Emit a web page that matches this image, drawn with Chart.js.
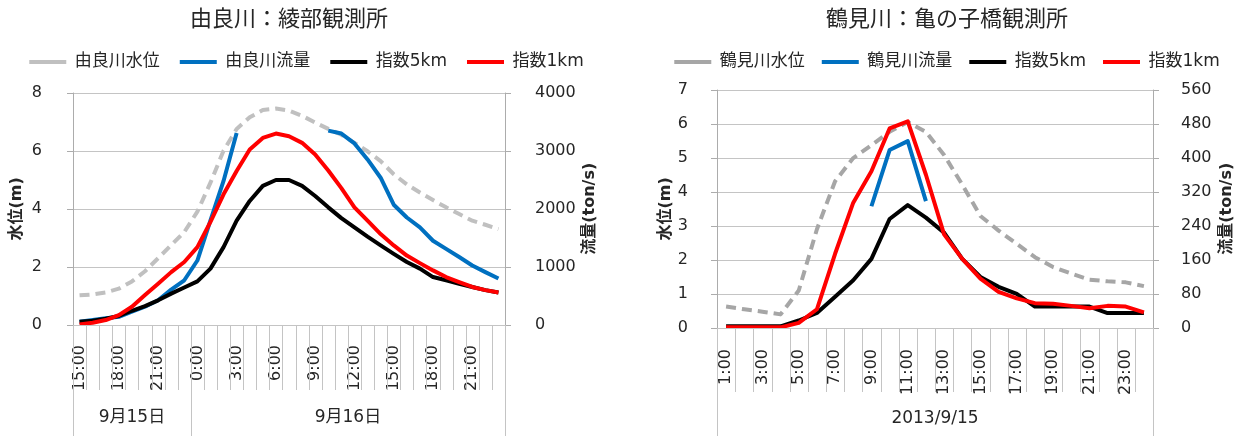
<!DOCTYPE html>
<html>
<head>
<meta charset="utf-8">
<script src="https://cdn.jsdelivr.net/npm/chart.js@4.4.1/dist/chart.umd.min.js"></script>
<style>
  body { margin: 0; background: #fff; }
  #wrap { position: relative; width: 1243px; height: 436px; overflow: hidden; }
  canvas { position: absolute; top: 0; }
</style>
</head>
<body>
<div id="wrap">
  <canvas id="yura" width="620" height="436" style="left:0"></canvas>
  <canvas id="tsurumi" width="623" height="436" style="left:620px"></canvas>
</div>
<script>
// ---- 由良川：綾部観測所 (9/15 15:00 - 9/16 23:00, hourly) ----
const yuraHours = [
  "15:00", "16:00", "17:00", "18:00", "19:00", "20:00", "21:00", "22:00", "23:00",
  "0:00", "1:00", "2:00", "3:00", "4:00", "5:00", "6:00", "7:00", "8:00", "9:00",
  "10:00", "11:00", "12:00", "13:00", "14:00", "15:00", "16:00", "17:00", "18:00",
  "19:00", "20:00", "21:00", "22:00", "23:00",
];
const yuraDates = ["9月15日", "9月16日"];
const yuraDateFirst = [0, 9]; // first hour index of each date
const yuraLevel = [
  1.02, 1.05, 1.12, 1.25, 1.5, 1.85, 2.3, 2.75, 3.2, 3.9, 4.9, 6.0, 6.75, 7.15, 7.4,
  7.45, 7.38, 7.2, 6.97, 6.75, 6.55, 6.27, 5.98, 5.64, 5.19, 4.84, 4.56, 4.3, 4.05,
  3.82, 3.59, 3.45, 3.3,
];
const yuraFlow = [
  55, 85, 115, 140, 230, 315, 425, 610, 770, 1110, 1800, 2480, 3305,
  null, null, null, null, null, null,
  3345, 3295, 3125, 2850, 2535, 2070, 1850, 1680, 1450, 1310, 1170, 1025, 910, 800,
];
const yuraIdx5 = [
  0.11, 0.15, 0.22, 0.31, 0.49, 0.65, 0.85, 1.08, 1.29, 1.5, 1.94, 2.68, 3.59, 4.27,
  4.79, 4.99, 4.99, 4.79, 4.44, 4.05, 3.68, 3.36, 3.04, 2.74, 2.45, 2.17, 1.94, 1.65,
  1.54, 1.42, 1.31, 1.2, 1.12,
];
const yuraIdx1 = [
  0.02, 0.08, 0.17, 0.34, 0.63, 1.03, 1.42, 1.82, 2.17, 2.68, 3.55, 4.5, 5.3, 6.04,
  6.44, 6.59, 6.5, 6.27, 5.87, 5.32, 4.71, 4.05, 3.59, 3.13, 2.74, 2.39, 2.13, 1.88,
  1.65, 1.48, 1.31, 1.2, 1.12,
];

// ---- 鶴見川：亀の子橋観測所 (2013/9/15, hourly) ----
const tsurumiHours = [
  "1:00", "2:00", "3:00", "4:00", "5:00", "6:00", "7:00", "8:00", "9:00", "10:00",
  "11:00", "12:00", "13:00", "14:00", "15:00", "16:00", "17:00", "18:00", "19:00",
  "20:00", "21:00", "22:00", "23:00", "0:00",
];
const tsurumiDates = ["2013/9/15"];
const tsurumiDateFirst = [0];
const tsurumiLevel = [
  0.63, 0.55, 0.48, 0.4, 1.1, 2.9, 4.31, 4.99, 5.37, 5.76, 6.05, 5.76, 5.08, 4.21,
  3.29, 2.86, 2.47, 2.08, 1.79, 1.6, 1.42, 1.37, 1.34, 1.23,
];
const tsurumiFlow = [
  null, null, null, null, null, null, null, null, 286, 418, 439, 298,
  null, null, null, null, null, null, null, null, null, null, null, null,
];
const tsurumiIdx5 = [
  0.05, 0.05, 0.05, 0.05, 0.22, 0.44, 0.92, 1.4, 2.03, 3.2, 3.61, 3.24, 2.8, 2.03,
  1.5, 1.21, 1.0, 0.63, 0.63, 0.63, 0.63, 0.44, 0.44, 0.44,
];
const tsurumiIdx1 = [
  0.02, 0.02, 0.02, 0.02, 0.15, 0.55, 2.18, 3.68, 4.6, 5.86, 6.07, 4.5, 2.75, 2.03,
  1.45, 1.06, 0.87, 0.73, 0.71, 0.65, 0.58, 0.65, 0.63, 0.46,
];

const FONT = '"DejaVu Sans", "Noto Sans CJK JP", sans-serif';
const TEXT = "#262626";
const GRID = "#c4c4c4";
const AXIS = "#acacac";
Chart.defaults.font.family = FONT;
Chart.defaults.color = TEXT;

// excel style frame: gridlines, axis lines and tick marks, slot separators under
// the x axis, date row and the two rotated axis titles
const excelExtras = {
  id: "excelExtras",
  beforeDatasetsDraw(chart, args, o) {
    const { ctx, chartArea } = chart;
    const { y, y2 } = chart.scales;
    const { left, right, top, bottom } = chartArea;
    ctx.save();
    ctx.lineWidth = 1;
    ctx.setLineDash([]);
    const seg = (x0, y0, x1, y1, color) => {
      ctx.strokeStyle = color;
      ctx.beginPath();
      ctx.moveTo(x0, y0);
      ctx.lineTo(x1, y1);
      ctx.stroke();
    };
    y.ticks.forEach((t) => {
      const py = Math.round(y.getPixelForValue(t.value)) + 0.5;
      seg(left, py, right, py, GRID);
      if (t.value % o.labelStep === 0) seg(left - 6, py, left, py, AXIS);
    });
    y2.ticks.forEach((t) => {
      const py = Math.round(y2.getPixelForValue(t.value)) + 0.5;
      seg(right, py, right + 6, py, AXIS);
    });
    const xl = Math.round(left) + 0.5;
    const xr = Math.round(right) + 0.5;
    seg(xl, top, xl, bottom, AXIS);
    seg(xr, top, xr, bottom, AXIS);
    ctx.restore();
  },
  afterDraw(chart, args, o) {
    const { ctx, chartArea } = chart;
    const x = chart.scales.x;
    const n = chart.data.labels.length;
    const vline = (px, y0, y1) => {
      px = Math.round(px) + 0.5;
      ctx.beginPath();
      ctx.moveTo(px, y0);
      ctx.lineTo(px, y1);
      ctx.stroke();
    };
    ctx.save();
    ctx.strokeStyle = GRID;
    ctx.lineWidth = 1;
    ctx.setLineDash([]);
    for (let i = 0; i <= n; i++) {
      vline(x.getPixelForValue(i - 0.5), chartArea.bottom, chartArea.bottom + o.sepLength);
    }
    ctx.font = "17px " + FONT;
    ctx.fillStyle = TEXT;
    ctx.textAlign = "center";
    ctx.textBaseline = "middle";
    o.dates.forEach((d, k) => {
      const first = o.firsts[k];
      const last = k + 1 < o.firsts.length ? o.firsts[k + 1] - 1 : n - 1;
      const a = x.getPixelForValue(first - 0.5);
      const b = x.getPixelForValue(last + 0.5);
      vline(a, chartArea.bottom, chart.height);
      vline(b, chartArea.bottom, chart.height);
      ctx.fillText(d, (a + b) / 2, o.dateY);
    });
    ctx.font = "bold 16px " + FONT;
    const cy = (chartArea.top + chartArea.bottom) / 2;
    [[o.leftTitle, o.leftTitleX], [o.rightTitle, o.rightTitleX]].forEach(([t, tx]) => {
      ctx.save();
      ctx.translate(tx, cy);
      ctx.rotate(-Math.PI / 2);
      ctx.fillText(t, 0, 0);
      ctx.restore();
    });
    ctx.restore();
  },
};

function buildChart(id, s) {
  return new Chart(document.getElementById(id), {
    type: "line",
    data: {
      labels: s.hours,
      datasets: [
        { label: s.names[0], data: s.level, borderColor: s.levelColor, borderWidth: 4, borderDash: [10, 6], yAxisID: "y", order: 4 },
        { label: s.names[1], data: s.flow, borderColor: "#0070c0", borderWidth: 4, yAxisID: "y2", order: 3 },
        { label: s.names[2], data: s.idx5, borderColor: "#000000", borderWidth: 4, yAxisID: "y", order: 2 },
        { label: s.names[3], data: s.idx1, borderColor: "#ff0000", borderWidth: 4, yAxisID: "y", order: 1 },
      ],
    },
    options: {
      responsive: false,
      animation: false,
      events: [],
      spanGaps: false,
      layout: { padding: s.padding },
      elements: {
        point: { radius: 0, hoverRadius: 0 },
        line: { tension: 0, borderJoinStyle: "round", fill: false },
      },
      plugins: {
        title: {
          display: true,
          text: s.title,
          fullSize: s.titleFull,
          color: TEXT,
          font: { size: 22, weight: "normal" },
          padding: { top: 7, bottom: s.titleGap },
        },
        // empty spacer between the legend and the plot
        subtitle: {
          display: true,
          text: "",
          weight: 500,
          font: { size: 1 },
          padding: { top: 0, bottom: s.legendGap },
        },
        legend: {
          labels: {
            usePointStyle: true,
            pointStyle: "line",
            pointStyleWidth: 37,
            color: TEXT,
            font: { size: 17 },
            padding: s.legendPad,
            sort: (a, b) => a.datasetIndex - b.datasetIndex,
          },
        },
        tooltip: { enabled: false },
        excelExtras: s.extras,
      },
      scales: {
        x: {
          offset: true,
          grid: { display: false },
          border: { display: false },
          ticks: {
            autoSkip: false,
            minRotation: 90,
            maxRotation: 90,
            padding: s.xPad,
            color: TEXT,
            font: { size: 16 },
            callback: function (v, i) {
              return i % s.labelEvery === 0 ? this.getLabelForValue(v) : null;
            },
          },
          afterFit: (sc) => { sc.height = s.xHeight; },
        },
        y: {
          position: "left",
          min: 0,
          max: s.levelMax,
          grid: { display: false },
          border: { display: false },
          ticks: {
            stepSize: 1,
            padding: s.yPadL,
            color: TEXT,
            font: { size: 16 },
            callback: (v) => (v % s.extras.labelStep === 0 ? String(v) : null),
          },
          afterFit: (sc) => { sc.width = s.yWidthL; },
        },
        y2: {
          position: "right",
          min: 0,
          max: s.flowMax,
          grid: { display: false },
          border: { display: false },
          ticks: {
            stepSize: s.flowStep,
            padding: s.yPadR,
            color: TEXT,
            font: { size: 16 },
            callback: (v) => String(v),
          },
          afterFit: (sc) => { sc.width = s.yWidthR; },
        },
      },
    },
    plugins: [excelExtras],
  });
}

buildChart("yura", {
  title: "由良川：綾部観測所",
  titleFull: false,
  titleGap: 0,
  legendPad: 20,
  legendGap: 11,
  names: ["由良川水位", "由良川流量", "指数5km", "指数1km"],
  hours: yuraHours,
  level: yuraLevel,
  flow: yuraFlow,
  idx5: yuraIdx5,
  idx1: yuraIdx1,
  levelColor: "#c0c0c0",
  levelMax: 8,
  flowMax: 4000,
  flowStep: 1000,
  labelEvery: 3,
  padding: { left: 0, right: 7, top: 0, bottom: 0 },
  yWidthL: 73,
  yWidthR: 108,
  xHeight: 111,
  xPad: 12,
  yPadL: 23,
  yPadR: 22,
  extras: {
    labelStep: 2,
    sepLength: 65,
    dates: yuraDates,
    firsts: yuraDateFirst,
    dateY: 418,
    leftTitle: "水位(m)",
    leftTitleX: 17,
    rightTitle: "流量(ton/s)",
    rightTitleX: 590,
  },
});

buildChart("tsurumi", {
  title: "鶴見川：亀の子橋観測所",
  titleFull: true,
  titleGap: 3,
  legendPad: 17,
  legendGap: 8,
  names: ["鶴見川水位", "鶴見川流量", "指数5km", "指数1km"],
  hours: tsurumiHours,
  level: tsurumiLevel,
  flow: tsurumiFlow,
  idx5: tsurumiIdx5,
  idx1: tsurumiIdx1,
  levelColor: "#a6a6a6",
  levelMax: 7,
  flowMax: 560,
  flowStep: 80,
  labelEvery: 2,
  padding: { left: 31, right: 0, top: 0, bottom: 0 },
  yWidthL: 66,
  yWidthR: 90,
  xHeight: 108,
  xPad: 13,
  yPadL: 21,
  yPadR: 20,
  extras: {
    labelStep: 1,
    sepLength: 64,
    dates: tsurumiDates,
    firsts: tsurumiDateFirst,
    dateY: 419,
    leftTitle: "水位(m)",
    leftTitleX: 46,
    rightTitle: "流量(ton/s)",
    rightTitleX: 607,
  },
});
</script>
</body>
</html>
